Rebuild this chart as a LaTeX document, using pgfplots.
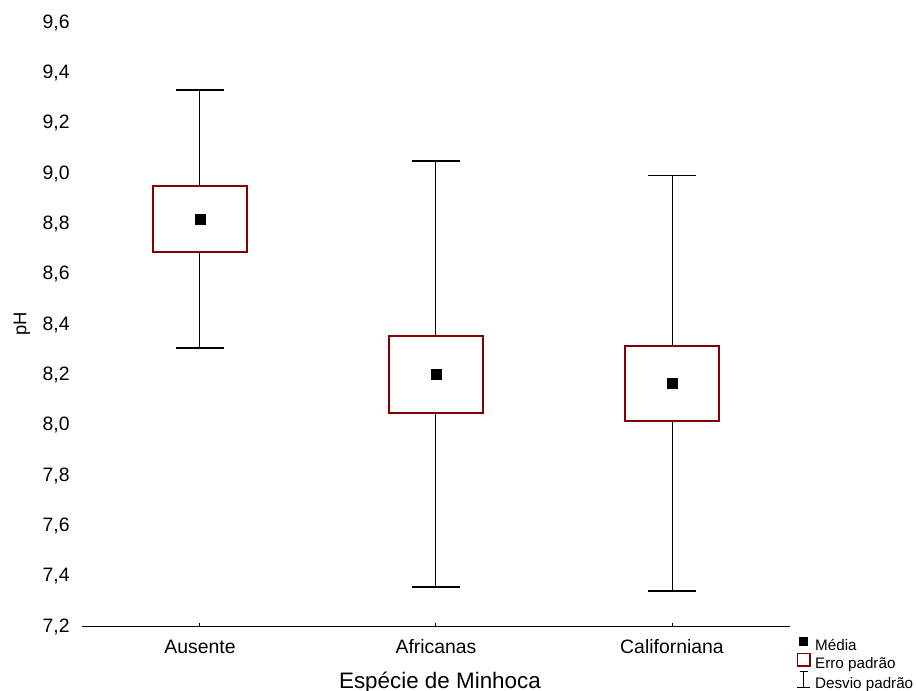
\documentclass[border=0pt]{standalone}
\usepackage{fontspec}
\setmainfont{Liberation Sans}
\usepackage{pgfplots}
\pgfplotsset{compat=1.18}
\definecolor{boxred}{RGB}{130,0,0}
\pgfplotstableread{
x mean sdup sddn lo hi
0 8.820 0.512 0.512 8.690 8.951
1 8.203 0.848 0.845 8.050 8.356
2 8.168 0.824 0.826 8.017 8.316
}\stats
\begin{document}
\begin{tikzpicture}
\begin{axis}[
  at={(0,0)}, anchor=south west,
  scale only axis, width=354pt, height=302pt,
  xmin=-0.5, xmax=2.5, ymin=7.2, ymax=9.6,
  clip=false,
  axis x line=bottom, axis y line=left,
  x axis line style={-, line width=0.65pt, black},
  y axis line style={draw=none},
  xtick={0,1,2}, xticklabels={Ausente,Africanas,Californiana},
  ytick={7.2,7.4,7.6,7.8,8.0,8.2,8.4,8.6,8.8,9.0,9.2,9.4,9.6},
  ytick style={draw=none},
  xtick style={line width=0.5pt, black},
  tick align=inside, major tick length=1.6pt,
  /pgf/number format/assume math mode=true,
  /pgf/number format/use comma,
  /pgf/number format/fixed,
  /pgf/number format/fixed zerofill,
  /pgf/number format/precision=1,
  ticklabel style={font=\fontsize{9.7}{11.6}\selectfont},
  yticklabel style={anchor=east, inner sep=0pt, xshift=-6pt},
  xticklabel style={anchor=base, inner sep=0pt, yshift=-13.6pt},
  xlabel={Espécie de Minhoca},
  xlabel style={at={(axis description cs:0.5056,-0.1015)}, anchor=base, font=\fontsize{11.2}{13.4}\selectfont},
  ylabel={pH},
  ylabel style={at={(axis description cs:-0.0847,0.502)}, anchor=center, font=\fontsize{9.2}{11}\selectfont},
  legend style={at={(1.0085,-0.0165)}, anchor=north west, draw=none, fill=none,
    inner sep=0pt, row sep=-1.1pt, column sep=1.8pt,
    font=\fontsize{7.6}{9}\selectfont,
    nodes={inner sep=0.5pt, text height=5.6pt, text depth=1.6pt}},
  legend cell align=left,
]
% whiskers (mean +- standard deviation)
\addplot[forget plot, draw=none, mark=none,
  error bars/.cd, y dir=both, y explicit,
  error bar style={line width=0.5pt, black},
  error mark=-, error mark options={line width=0.65pt, black, mark size=12pt, rotate=90}]
  table[x=x, y=mean, y error plus=sdup, y error minus=sddn] {\stats};
% boxes (mean +- standard error)
\addplot[forget plot, draw=boxred, fill=white, line width=0.85pt]
  coordinates {(-0.2,8.690) (0.2,8.690) (0.2,8.951) (-0.2,8.951)} -- cycle;
\addplot[forget plot, draw=boxred, fill=white, line width=0.85pt]
  coordinates {(0.8,8.050) (1.2,8.050) (1.2,8.356) (0.8,8.356)} -- cycle;
\addplot[forget plot, draw=boxred, fill=white, line width=0.85pt]
  coordinates {(1.8,8.017) (2.2,8.017) (2.2,8.316) (1.8,8.316)} -- cycle;
% means
\addplot[forget plot, only marks, mark=square*, mark size=2.6pt, black,
  mark options={line width=0.2pt}] table[x=x, y=mean] {\stats};
\addlegendimage{legend image code/.code={\fill[black] (1.5pt,0.6pt) rectangle (5.5pt,4.6pt);}}
\addlegendentry{Média}
\addlegendimage{legend image code/.code={\draw[boxred, line width=0.8pt] (0.4pt,-0.55pt) rectangle (6.6pt,5.75pt);}}
\addlegendentry{Erro padrão}
\addlegendimage{legend image code/.code={\draw[black, line width=0.5pt] (3.5pt,-1.4pt)--(3.5pt,6.6pt) (0.2pt,-1.4pt)--(6.8pt,-1.4pt) (1.5pt,6.6pt)--(5.5pt,6.6pt);}}
\addlegendentry{Desvio padrão}
\end{axis}
\pgfresetboundingbox
\useasboundingbox (-41pt,-32.15pt) rectangle (417pt,313.35pt);
\end{tikzpicture}
\end{document}
